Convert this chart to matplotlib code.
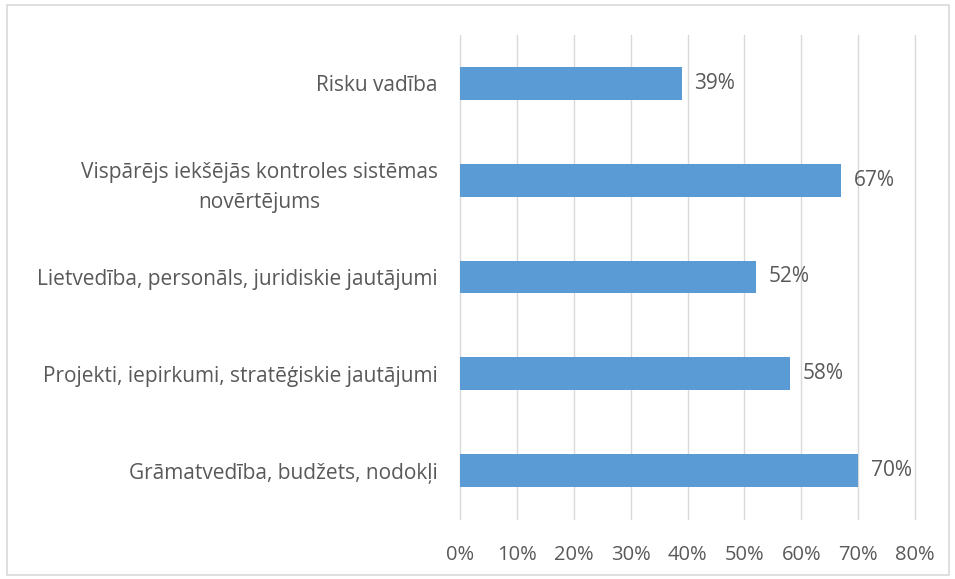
import matplotlib.pyplot as plt
from matplotlib.patches import Rectangle
from matplotlib.ticker import PercentFormatter

# survey areas, listed bottom to top as they appear on the y axis
categories = [
    "Grāmatvedība, budžets, nodokļi",
    "Projekti, iepirkumi, stratēģiskie jautājumi",
    "Lietvedība, personāls, juridiskie jautājumi",
    "Vispārējs iekšējās kontroles sistēmas\nnovērtējums",
    "Risku vadība",
]
values = [70, 58, 52, 67, 39]
ticks = [0, 10, 20, 30, 40, 50, 60, 70, 80]

bar_color = "#5B9BD5"
text_color = "#595959"
grid_color = "#D9D9D9"
fsize = 15

plt.rcParams['font.family'] = ['Open Sans', 'DejaVu Sans']

fig = plt.figure(figsize=(9.55, 5.79), dpi=100)
ax = fig.add_axes([0.4817, 0.1036, 0.4764, 0.836])

y = range(len(categories))
ax.barh(y, values, height=0.34, color=bar_color, zorder=3)

for yi, v in zip(y, values):
    ax.text(v + 2.2, yi, f"{v}%", va='center', ha='left',
            color=text_color, fontsize=fsize)

ax.set_xlim(0, 80)
ax.set_ylim(-0.5, len(categories) - 0.5)
ax.set_xticks(ticks)
ax.xaxis.set_major_formatter(PercentFormatter(decimals=0))
ax.set_yticks(list(y))
ax.set_yticklabels(categories, multialignment='center', linespacing=1.6)

ax.grid(axis='x', color=grid_color, linewidth=1, zorder=0)
for gl in ax.get_xgridlines():
    gl.set_clip_on(False)
for s in ax.spines.values():
    s.set_visible(False)
ax.tick_params(axis='both', length=0, colors=text_color, labelsize=fsize)
ax.tick_params(axis='x', labelsize=14.5, pad=19)
ax.tick_params(axis='y', pad=16)

# light frame around the whole chart
fig.patches.append(Rectangle((7 / 955, 4 / 579), 942 / 955, 570 / 579,
                             transform=fig.transFigure, fill=False,
                             edgecolor="#D9D9D9", linewidth=1.2))

fig.savefig("out.png", dpi=100)
